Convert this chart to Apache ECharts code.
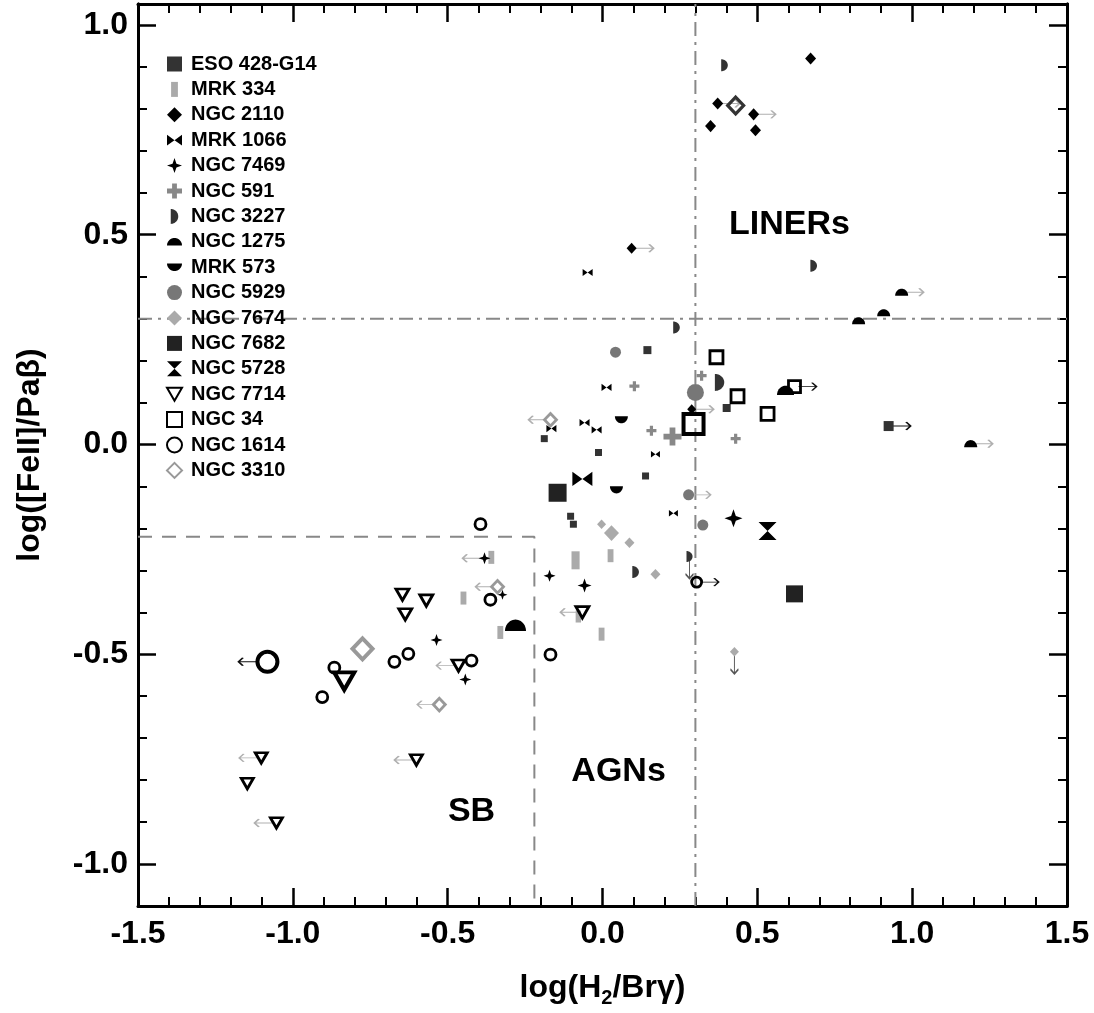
<!DOCTYPE html>
<html><head><meta charset="utf-8">
<script src="https://cdn.jsdelivr.net/npm/echarts@6/dist/echarts.min.js"></script>
<style>html,body{margin:0;padding:0;background:#fff}#c{width:1094px;height:1013px}</style>
</head><body><div id="c"></div>
<script>
// ---- data: [log(H2/Brg), log([FeII]/Pab), marker size] ----
const eso428 = [[0.145,0.225,8],[0.401,0.087,8],[-0.188,0.014,7],[-0.013,-0.019,7],[0.139,-0.075,7],[-0.103,-0.171,7],[-0.094,-0.190,7],[0.924,0.044,10]];
const mrk334 = [[-0.087,-0.276,18],[0.026,-0.265,13],[-0.359,-0.269,13],[-0.449,-0.366,13],[-0.330,-0.448,13],[-0.003,-0.452,13],[-0.078,-0.410,12]];
const ngc2110 = [[0.672,0.920,11],[0.372,0.813,11],[0.488,0.787,11],[0.349,0.759,11],[0.494,0.749,11],[0.094,0.468,10],[0.288,0.084,9]];
const mrk1066 = [[-0.048,0.410,10],[0.013,0.136,10],[-0.165,0.038,10],[-0.058,0.052,10],[-0.019,0.035,10],[0.171,-0.023,9],[-0.065,-0.082,20],[0.229,-0.164,9]];
const ngc7469 = [[0.423,-0.176,18],[-0.381,-0.271,12],[-0.171,-0.313,12],[-0.058,-0.336,14],[-0.323,-0.358,10],[-0.536,-0.466,12],[-0.443,-0.560,12]];
const ngc591 = [[0.320,0.164,10],[0.103,0.139,10],[0.158,0.033,10],[0.226,0.019,18],[0.430,0.014,10]];
const ngc3227 = [[0.394,0.904,12],[0.682,0.426,12],[0.239,0.279,12],[0.378,0.148,17],[0.107,-0.304,12],[0.281,-0.267,11]];
const ngc1275 = [[0.966,0.363,13],[0.908,0.314,13],[0.827,0.295,13],[1.189,0.002,13],[0.591,0.129,17],[-0.281,-0.431,21]];
const mrk573 = [[0.061,0.059,13],[0.045,-0.108,13]];
const ngc5929 = [[0.042,0.220,11],[0.300,0.124,17],[0.278,-0.120,11],[0.324,-0.192,11]];
const ngc7674 = [[-0.003,-0.190,9],[0.029,-0.211,15],[0.087,-0.234,10],[0.171,-0.309,10],[0.426,-0.494,9]];
const ngc7682 = [[-0.145,-0.115,18],[0.620,-0.356,17]];
const ngc5728 = [[0.533,-0.206,18]];
const ngc7714 = [[-0.646,-0.358,13],[-0.569,-0.372,13],[-0.637,-0.405,13],[-0.065,-0.400,13],[-0.465,-0.527,13],[-0.834,-0.564,20],[-1.102,-0.747,12],[-1.147,-0.808,12],[-1.053,-0.902,12],[-0.601,-0.752,12]];
const ngc34 = [[0.368,0.208,13],[0.436,0.115,13],[0.620,0.138,12],[0.533,0.073,13],[0.294,0.049,20]];
const ngc1614 = [[-0.394,-0.190,11],[-0.362,-0.370,11],[-0.672,-0.518,11],[-0.627,-0.499,11],[-0.423,-0.515,11],[-0.168,-0.501,11],[-1.082,-0.518,20],[-0.866,-0.532,11],[-0.905,-0.602,11],[0.304,-0.328,10]];
const ngc3310 = [[0.430,0.808,16,1],[-0.168,0.059,12],[-0.339,-0.339,12],[-0.775,-0.487,20],[-0.527,-0.620,12]];

// limit arrows: [x, y, offset]
const arrowLeftGray = [[-0.168,0.059],[-0.381,-0.271],[-0.339,-0.339],[-0.065,-0.400],[-0.465,-0.527],[-0.527,-0.620],[-1.102,-0.747],[-1.053,-0.902],[-0.601,-0.752]];
const arrowRightGray = [[0.094,0.468],[0.488,0.787],[0.278,-0.120],[0.288,0.084],[0.966,0.363],[1.189,0.002],[0.372,0.813]];
const arrowRightDark = [[0.620,0.138],[0.924,0.044],[0.304,-0.328]];
const arrowLeftDark = [[-1.082,-0.518,20]];
const arrowDown = [[0.281,-0.267],[0.426,-0.494]];

const regionNames = ['LINERs','AGNs','SB'];
const regionPos = [[0.604,0.525],[0.052,-0.780],[-0.423,-0.876]];

const xTicks = [-1.5,-1.0,-0.5,0.0,0.5,1.0,1.5];
const yMajor = [-1.0,-0.5,0.0,0.5,1.0];
const yMinor = [-0.9,-0.8,-0.7,-0.6,-0.4,-0.3,-0.2,-0.1,0.1,0.2,0.3,0.4,0.6,0.7,0.8,0.9];

const FONT = 'Liberation Sans';

// half-disc outlines as polygons (marker geometry only)
function halfDisc(a0) {
  const pts = [];
  const n = 24;
  for (let i = 0; i <= n; i++) {
    const a = a0 + Math.PI * i / n;
    pts.push((10 + 10 * Math.cos(a)).toFixed(2) + ',' + (10 + 10 * Math.sin(a)).toFixed(2));
  }
  return 'path://M' + pts.join(' L') + ' Z';
}

const SYM = {
  bowtie: 'path://M0,0 L7,5 L0,10 Z M14,0 L7,5 L14,10 Z',
  hourglass: 'path://M0,0 L12,0 L6,6 Z M0,12 L12,12 L6,6 Z',
  star4: 'path://M5,0 L6.3,3.7 L10,5 L6.3,6.3 L5,10 L3.7,6.3 L0,5 L3.7,3.7 Z',
  plus: 'path://M3.4,0 H6.6 V3.4 H10 V6.6 H6.6 V10 H3.4 V6.6 H0 V3.4 H3.4 Z',
  halfRight: halfDisc(-Math.PI / 2),
  halfTop: halfDisc(Math.PI),
  halfBottom: halfDisc(0),
  triDown: 'path://M0,0 L12,0 L6,10.4 Z',
  tallRect: 'path://M0,0 H5 V11 H0 Z',
  arrowR: 'path://M0,4 L20,4 M15,0 L20,4 L15,8',
  arrowL: 'path://M20,4 L0,4 M5,0 L0,4 L5,8',
  arrowD: 'path://M4,0 L4,20 M0,15 L4,20 L8,15'
};

function filled(name, data, symbol, color, aspect) {
  return {
    type: 'scatter', name, symbol, symbolKeepAspect: false,
    symbolSize: v => [v[2]*aspect[0], v[2]*aspect[1]],
    itemStyle: { color: color, opacity: 1 },
    data: data
  };
}
function hollow(name, data, symbol, color, aspect) {
  return {
    type: 'scatter', name, symbol, symbolKeepAspect: false,
    symbolSize: v => [v[2]*aspect[0], v[2]*aspect[1]],
    itemStyle: { color: 'rgba(0,0,0,0)', borderColor: color, borderWidth: 3, opacity: 1 },
    data: data.map(p => ({ value: p, itemStyle: { borderWidth: Math.max(2.8, p[2]/5), borderColor: p[3] ? '#333' : color } }))
  };
}
function arrows(data, symbol, color, dir) {
  return {
    type: 'scatter', silent: true, symbol, symbolKeepAspect: false,
    symbolSize: dir === 'd' ? [8, 18] : [18, 8],
    itemStyle: { color: 'rgba(0,0,0,0)', borderColor: color, borderWidth: 1.4, opacity: 1 },
    z: 1,
    data: data.map(p => {
      const o = p[2] || 13;
      return { value: [p[0], p[1]], symbolOffset: dir === 'r' ? [o, 0] : dir === 'l' ? [-o, 0] : [0, o] };
    })
  };
}
function refLine(data, type) {
  return { type: 'line', silent: true, symbol: 'none', data: data, z: 1,
    lineStyle: { color: '#888', width: 2, type: type } };
}

const galaxySeries = [
  filled('ESO 428-G14', eso428, 'rect', '#333', [1,1]),
  filled('MRK 334', mrk334, SYM.tallRect, '#aaa', [0.45,1]),
  filled('NGC 2110', ngc2110, 'diamond', '#000', [1,1.1]),
  filled('MRK 1066', mrk1066, SYM.bowtie, '#000', [1,0.72]),
  filled('NGC 7469', ngc7469, SYM.star4, '#000', [1,1]),
  filled('NGC 591', ngc591, SYM.plus, '#888', [1,1]),
  filled('NGC 3227', ngc3227, SYM.halfRight, '#333', [0.55,1]),
  filled('NGC 1275', ngc1275, SYM.halfTop, '#000', [1,0.55]),
  filled('MRK 573', mrk573, SYM.halfBottom, '#000', [1,0.55]),
  filled('NGC 5929', ngc5929, 'circle', '#777', [1,1]),
  filled('NGC 7674', ngc7674, 'diamond', '#aaa', [1,1.05]),
  filled('NGC 7682', ngc7682, 'rect', '#222', [1,1]),
  filled('NGC 5728', ngc5728, SYM.hourglass, '#000', [1,1]),
  hollow('NGC 7714', ngc7714, SYM.triDown, '#000', [1,0.87]),
  hollow('NGC 34', ngc34, 'rect', '#000', [1,1]),
  hollow('NGC 1614', ngc1614, 'circle', '#000', [1,1]),
  hollow('NGC 3310', ngc3310, 'diamond', '#999', [1,1.05])
];

const names = galaxySeries.map(s => s.name);

const series = [
  refLine([[0.3,-1.1],[0.3,1.05]], [14,6,3,6]),
  refLine([[-1.5,0.3],[1.5,0.3]], [14,6,3,6]),
  refLine([[-1.5,-0.22],[-0.22,-0.22],[-0.22,-1.1]], [14,10]),
  arrows(arrowLeftGray, SYM.arrowL, '#b0b0b0', 'l'),
  arrows(arrowRightGray, SYM.arrowR, '#b0b0b0', 'r'),
  arrows(arrowRightDark, SYM.arrowR, '#111', 'r'),
  arrows(arrowLeftDark, SYM.arrowL, '#111', 'l'),
  arrows(arrowDown, SYM.arrowD, '#555', 'd'),
  ...galaxySeries,
  { type: 'scatter', silent: true, symbolSize: 0, itemStyle: { opacity: 1 },
    data: regionNames.map((n, i) => ({ name: n, value: regionPos[i] })),
    label: { show: true, position: 'inside', formatter: p => p.name, opacity: 1,
      fontFamily: FONT, fontWeight: 'bold', fontSize: 34, color: '#000' } }
];

const axisCommon = {
  type: 'value',
  axisLine: { show: true, onZero: false, lineStyle: { color: '#000', width: 3 } },
  splitLine: { show: false }
};

const option = {
  animation: false,
  backgroundColor: '#fff',
  grid: { left: 138, right: 27, top: 4, bottom: 92, containLabel: false },
  legend: {
    data: names, orient: 'vertical', left: 161, top: 49,
    itemWidth: 15, itemHeight: 15, itemGap: 5.4,
    selectedMode: false,
    textStyle: { fontFamily: FONT, fontWeight: 'bold', fontSize: 20, color: '#000', lineHeight: 20, padding: [0,0,0,4] }
  },
  xAxis: [
    Object.assign({}, axisCommon, {
      position: 'bottom', min: xTicks[0], max: xTicks[xTicks.length-1], interval: 0.5,
      axisTick: { inside: true, length: 18, lineStyle: { color: '#000', width: 2.5 } },
      minorTick: { show: true, splitNumber: 5, length: 9, lineStyle: { color: '#000', width: 2 } },
      minorSplitLine: { show: false },
      axisLabel: { fontFamily: FONT, fontWeight: 'bold', fontSize: 32, color: '#000', margin: 12, formatter: v => v.toFixed(1) },
      name: '{a|log(H}{s|2}{a|/Brγ)}', nameLocation: 'middle', nameGap: 62,
      nameTextStyle: { rich: {
        a: { fontFamily: FONT, fontWeight: 'bold', fontSize: 32, color: '#000', lineHeight: 40 },
        s: { fontFamily: FONT, fontWeight: 'bold', fontSize: 20, color: '#000', lineHeight: 20, verticalAlign: 'bottom' } } }
    }),
    Object.assign({}, axisCommon, {
      position: 'top', min: xTicks[0], max: xTicks[xTicks.length-1], interval: 0.5,
      axisTick: { inside: true, length: 18, lineStyle: { color: '#000', width: 2.5 } },
      minorTick: { show: true, splitNumber: 5, length: 9, lineStyle: { color: '#000', width: 2 } },
      axisLabel: { show: false }
    })
  ],
  yAxis: [
    Object.assign({}, axisCommon, {
      position: 'left', min: -1.1, max: 1.05,
      axisTick: { inside: true, length: 18, customValues: yMajor, lineStyle: { color: '#000', width: 2.5 } },
      axisLabel: { customValues: yMajor, fontFamily: FONT, fontWeight: 'bold', fontSize: 32, color: '#000', margin: 10, formatter: v => v.toFixed(1) },
      name: 'log([FeII]/Paβ)', nameLocation: 'middle', nameGap: 92,
      nameTextStyle: { fontFamily: FONT, fontWeight: 'bold', fontSize: 32, color: '#000' }
    }),
    Object.assign({}, axisCommon, {
      position: 'left', min: -1.1, max: 1.05,
      axisTick: { inside: true, length: 9, customValues: yMinor, lineStyle: { color: '#000', width: 2 } },
      axisLabel: { show: false }
    }),
    Object.assign({}, axisCommon, {
      position: 'right', min: -1.1, max: 1.05,
      axisTick: { inside: true, length: 18, customValues: yMajor, lineStyle: { color: '#000', width: 2.5 } },
      axisLabel: { show: false }
    }),
    Object.assign({}, axisCommon, {
      position: 'right', min: -1.1, max: 1.05,
      axisTick: { inside: true, length: 9, customValues: yMinor, lineStyle: { color: '#000', width: 2 } },
      axisLabel: { show: false }
    })
  ],
  series: series
};

const chart = echarts.init(document.getElementById('c'), null, { renderer: 'canvas' });
chart.setOption(option);
</script>
</body></html>
